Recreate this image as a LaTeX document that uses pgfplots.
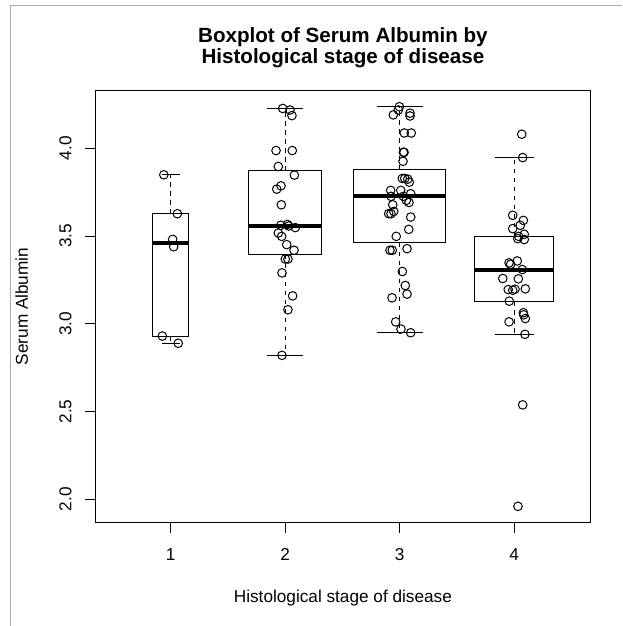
\documentclass[border=0pt]{standalone}
\usepackage{fontspec}
\setmainfont{Liberation Sans}
\usepackage{pgfplots}
\pgfplotsset{compat=1.18}
\usepgfplotslibrary{statistics}

% R-style boxplot pieces: dashed whisker stems, solid staples
\tikzset{
  rstem/.style={black, line width=1pt, dash pattern=on 4.5pt off 4.5pt},
  rcap/.style={black, line width=1pt, solid},
}
\pgfplotsset{
  boxplot/draw direction=y,
  boxplot/draw/lower whisker/.code={
    \draw[rstem]
      (boxplot box cs:\pgfplotsboxplotvalue{lower quartile},0.5) --
      (boxplot box cs:\pgfplotsboxplotvalue{lower whisker},0.5);
    \draw[rcap]
      (boxplot whisker cs:\pgfplotsboxplotvalue{lower whisker},0) --
      (boxplot whisker cs:\pgfplotsboxplotvalue{lower whisker},1);
  },
  boxplot/draw/upper whisker/.code={
    \draw[rstem]
      (boxplot box cs:\pgfplotsboxplotvalue{upper quartile},0.5) --
      (boxplot box cs:\pgfplotsboxplotvalue{upper whisker},0.5);
    \draw[rcap]
      (boxplot whisker cs:\pgfplotsboxplotvalue{upper whisker},0) --
      (boxplot whisker cs:\pgfplotsboxplotvalue{upper whisker},1);
  },
  boxplot/every box/.style={black, line width=1pt},
  boxplot/every median/.style={black, line width=4pt},
}
\newcommand{\lblfont}{\fontsize{17.2}{20}\selectfont}
\newcommand{\ttlfont}{\fontsize{20.6}{24}\selectfont\bfseries}

\begin{document}
\begin{tikzpicture}
\useasboundingbox (0pt,0pt) rectangle (622pt,626pt);
\fill[white] (0pt,0pt) rectangle (622pt,626pt);
\draw[gray!65, line width=1pt] (10.3pt,0pt) -- (10.3pt,620.7pt) -- (622pt,620.7pt);

\begin{axis}[
  at={(95.7pt,103.7pt)}, anchor=south west,
  scale only axis, width=494.3pt, height=431.6pt,
  xmin=0.345, xmax=4.662, ymin=1.869, ymax=4.328,
  axis line style={black, line width=1pt},
  xtick={1,2,3,4}, ytick={2,2.5,3,3.5,4},
  xtick pos=bottom, ytick pos=left,
  tick align=outside, major tick length=10.3pt,
  every tick/.style={black, line width=1pt},
  ticklabel style={font=\lblfont},
  xticklabel style={anchor=base, yshift=-27.4pt},
  yticklabel style={xshift=-14pt, rotate=90, anchor=base,
    /pgf/number format/fixed, /pgf/number format/fixed zerofill,
    /pgf/number format/precision=1},
  /pgf/number format/assume math mode=true,
  clip=false,
]
% stage 1 (n = 6)
\addplot[boxplot prepared={lower whisker=2.889, lower quartile=2.930,
  median=3.459, upper quartile=3.627, upper whisker=3.849,
  draw position=1, box extend=0.318, whisker extend=0.159}] coordinates {};
% stage 2 (n = 24)
\addplot[boxplot prepared={lower whisker=2.820, lower quartile=3.394,
  median=3.559, upper quartile=3.871, upper whisker=4.227,
  draw position=2, box extend=0.636, whisker extend=0.318}] coordinates {};
% stage 3 (n = 38)
\addplot[boxplot prepared={lower whisker=2.949, lower quartile=3.463,
  median=3.727, upper quartile=3.877, upper whisker=4.237,
  draw position=3, box extend=0.800, whisker extend=0.400}] coordinates {};
% stage 4 (n = 28)
\addplot[boxplot prepared={lower whisker=2.940, lower quartile=3.129,
  median=3.309, upper quartile=3.498, upper whisker=3.947,
  draw position=4, box extend=0.687, whisker extend=0.344}] coordinates {};

% jittered observations
\addplot[only marks, mark=o, mark size=4.3pt, black,
  mark options={line width=1pt}] coordinates {
  (0.940,3.849) (1.058,3.627) (1.017,3.481) (1.026,3.439) (0.927,2.930) (1.066,2.889)
  (1.978,4.227) (2.042,4.218) (2.059,4.186) (1.920,3.987) (2.062,3.987) (1.940,3.896)
  (2.080,3.847) (1.963,3.786) (1.926,3.767) (1.966,3.678) (1.961,3.561) (2.019,3.566)
  (2.031,3.557) (2.088,3.548) (1.940,3.517) (1.969,3.498) (2.013,3.451) (2.077,3.419)
  (2.001,3.369) (2.024,3.369) (1.972,3.290) (2.065,3.159) (2.024,3.080) (1.972,2.820)
  (2.997,4.237) (2.988,4.218) (2.944,4.190) (3.090,4.200) (3.090,4.184) (3.040,4.087)
  (3.101,4.087) (3.032,3.977) (3.038,3.977) (3.029,3.926) (3.023,3.828) (3.044,3.828)
  (3.070,3.824) (3.084,3.807) (2.921,3.760) (3.009,3.760) (2.924,3.726) (3.096,3.741)
  (3.032,3.726) (3.058,3.703) (3.081,3.691) (2.939,3.678) (2.948,3.640) (2.904,3.627)
  (2.924,3.627) (3.096,3.608) (3.079,3.538) (2.970,3.498) (2.915,3.419) (2.935,3.419)
  (3.064,3.428) (3.023,3.298) (3.049,3.218) (3.064,3.169) (2.933,3.148) (2.965,3.011)
  (3.011,2.970) (3.096,2.949)
  (4.066,4.080) (4.074,3.947) (3.987,3.618) (4.080,3.589) (4.053,3.561) (3.987,3.542)
  (4.088,3.510) (4.039,3.498) (4.031,3.485) (4.088,3.480) (4.027,3.358) (3.955,3.347)
  (3.969,3.339) (4.071,3.309) (3.900,3.258) (4.036,3.256) (3.948,3.195) (3.987,3.191)
  (4.007,3.197) (4.097,3.199) (3.957,3.129) (4.080,3.063) (4.083,3.051) (4.097,3.030)
  (3.955,3.011) (4.094,2.940) (4.074,2.538) (4.033,1.960)
};
\end{axis}

% titles and axis labels
\node[anchor=base, font=\ttlfont] at (342.9pt,583.3pt) {Boxplot of Serum Albumin by};
\node[anchor=base, font=\ttlfont] at (342.9pt,562.7pt) {Histological stage of disease};
\node[anchor=base, font=\lblfont] at (342.9pt,23.7pt) {Histological stage of disease};
\node[anchor=base, font=\lblfont, rotate=90] at (28pt,319.5pt) {Serum Albumin};
\end{tikzpicture}
\end{document}
